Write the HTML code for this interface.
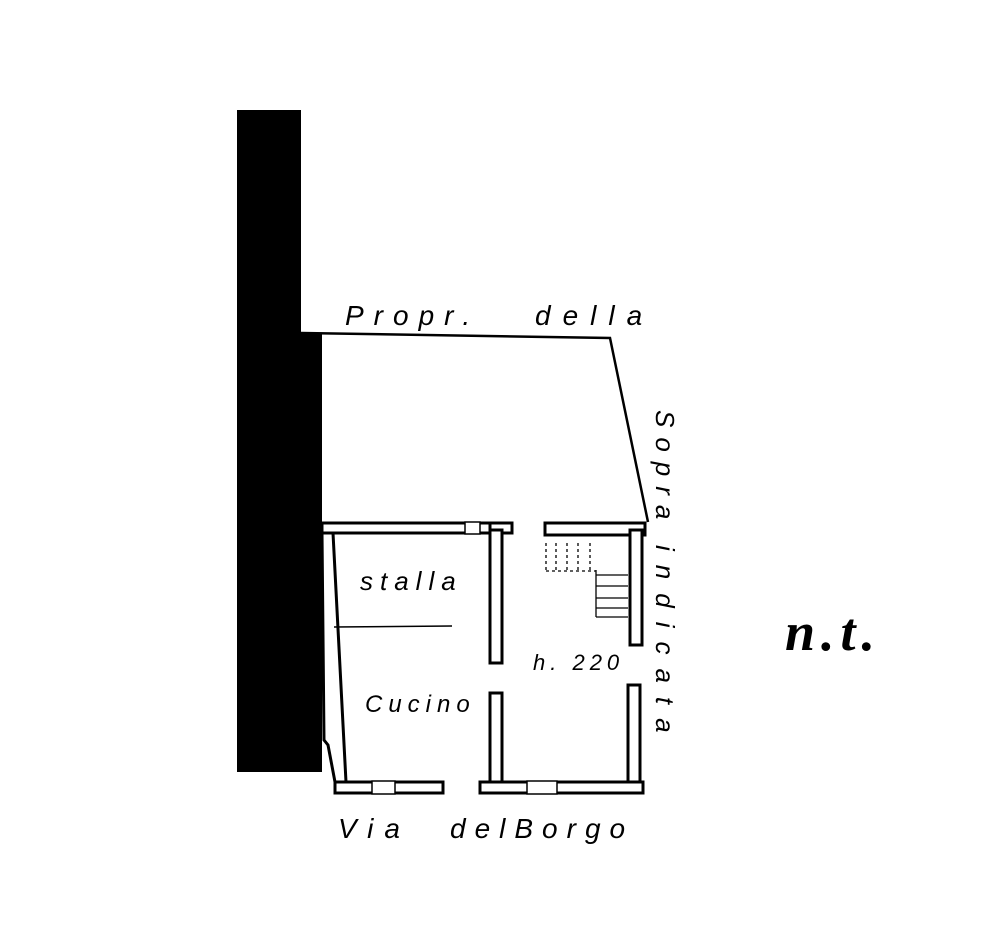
<!DOCTYPE html>
<html><head><meta charset="utf-8"><style>
html,body{margin:0;padding:0;background:#fff;width:1000px;height:927px;overflow:hidden}
svg{display:block}
text{font-family:"Liberation Sans",sans-serif;font-style:italic;fill:#000}
</style></head><body>
<svg width="1000" height="927" viewBox="0 0 1000 927" xmlns="http://www.w3.org/2000/svg">
<rect x="237" y="110" width="64" height="662" fill="#000"/>
<rect x="237" y="333" width="85" height="439" fill="#000"/>
<polyline points="301,333 610,338 648,522" fill="none" stroke="#000" stroke-width="2.5"/>
<g fill="#fff" stroke="#000" stroke-width="3">
<rect x="322" y="523" width="168" height="10"/>
<rect x="490" y="523" width="22" height="10"/>
<rect x="490" y="530" width="12" height="133"/>
<rect x="545" y="523" width="100" height="12"/>
<rect x="630" y="530" width="12" height="115"/>
<rect x="628" y="685" width="12" height="100"/>
<rect x="490" y="693" width="12" height="92"/>
<rect x="480" y="782" width="163" height="11"/>
<rect x="335" y="782" width="108" height="11"/>
<polygon points="322,533 333,533 346,782 335,782 328,745 324,740"/>
</g>
<g fill="#fff" stroke="#000" stroke-width="1.5">
<rect x="465" y="522" width="15" height="12"/>
<rect x="372" y="781" width="23" height="13"/>
<rect x="527" y="781" width="30" height="13"/>
</g>
<line x1="334" y1="627" x2="452" y2="626" stroke="#000" stroke-width="1.5"/>
<g stroke="#000" stroke-width="1.3" fill="none">
<line x1="596" y1="575" x2="628" y2="575"/>
<line x1="596" y1="586" x2="628" y2="586"/>
<line x1="596" y1="598" x2="628" y2="598"/>
<line x1="596" y1="608" x2="628" y2="608"/>
<line x1="596" y1="617" x2="628" y2="617"/>
<line x1="596" y1="570" x2="596" y2="617"/>
<g stroke-dasharray="3,3">
<line x1="546" y1="543" x2="546" y2="570"/>
<line x1="556" y1="543" x2="556" y2="570"/>
<line x1="567" y1="543" x2="567" y2="570"/>
<line x1="578" y1="543" x2="578" y2="570"/>
<line x1="590" y1="543" x2="590" y2="570"/>
<line x1="546" y1="571" x2="596" y2="571"/>
</g>
</g>
<text x="345" y="325" font-size="28" letter-spacing="10">Propr.</text>
<text x="535" y="325" font-size="28" letter-spacing="12">della</text>
<text x="360" y="590" font-size="26" letter-spacing="7">stalla</text>
<text x="365" y="712" font-size="24" letter-spacing="6">Cucino</text>
<text x="533" y="670" font-size="22" letter-spacing="5">h. 220</text>
<text x="338" y="838" font-size="28" letter-spacing="11">Via</text>
<text x="450" y="838" font-size="28" letter-spacing="9">delBorgo</text>
<text transform="translate(656,410) rotate(90)" font-size="26" letter-spacing="10">Sopra</text>
<text transform="translate(656,545) rotate(90)" font-size="26" letter-spacing="14">indicata</text>
<text x="785" y="650" font-size="54" font-weight="bold" letter-spacing="6" style="font-family:'Liberation Serif',serif">n.t.</text>
</svg>
</body></html>
